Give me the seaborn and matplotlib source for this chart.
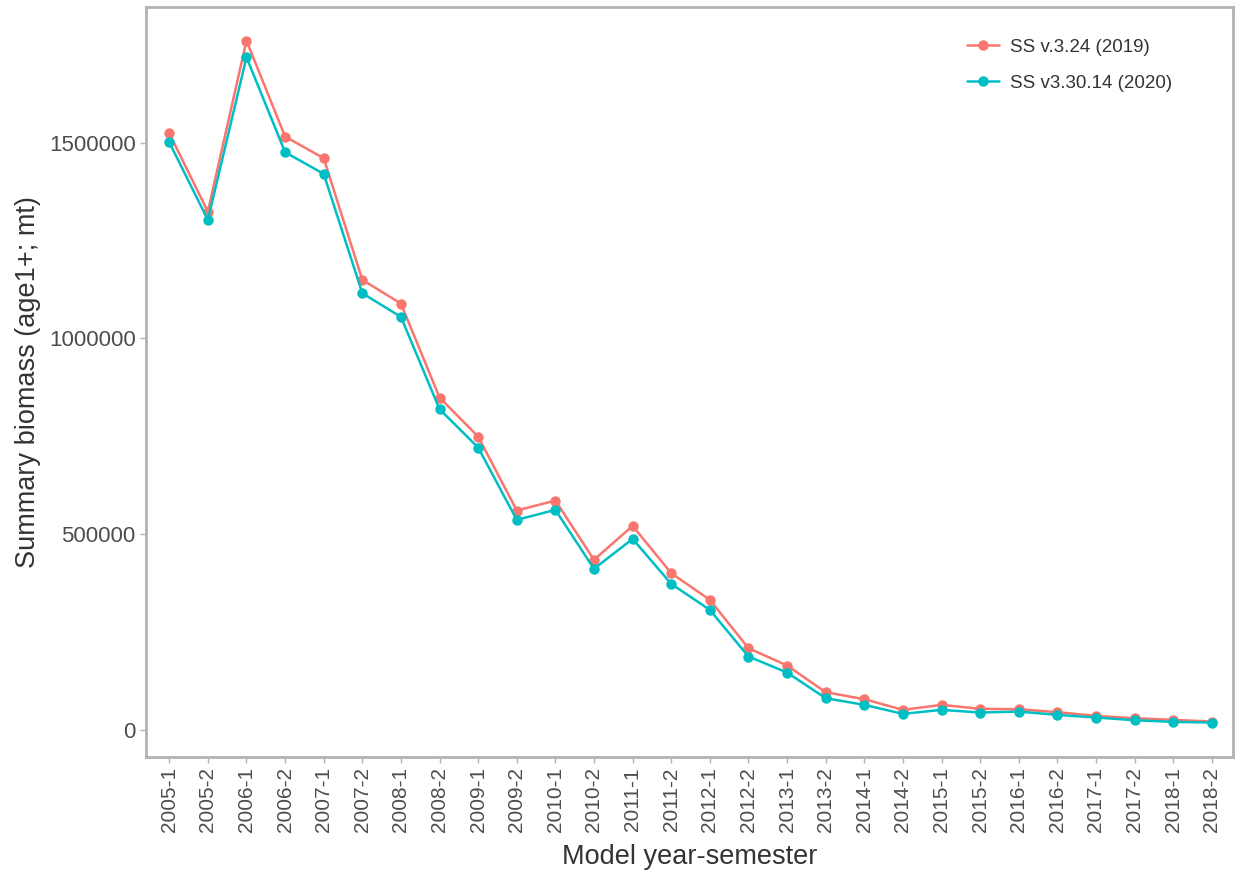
import matplotlib
matplotlib.use('Agg')
import matplotlib.pyplot as plt
import pandas as pd
import seaborn as sns

periods = ['2005-1', '2005-2', '2006-1', '2006-2', '2007-1', '2007-2', '2008-1',
           '2008-2', '2009-1', '2009-2', '2010-1', '2010-2', '2011-1', '2011-2',
           '2012-1', '2012-2', '2013-1', '2013-2', '2014-1', '2014-2', '2015-1',
           '2015-2', '2016-1', '2016-2', '2017-1', '2017-2', '2018-1', '2018-2']

ss324 = [1524600, 1324000, 1761000, 1516000, 1460600, 1149800, 1089300,
         849000, 749400, 560400, 586000, 434400, 521200, 400300,
         332200, 208700, 164400, 96300, 78400, 51100, 63900,
         53700, 52800, 45200, 35800, 29800, 25500, 21300]

ss330 = [1501600, 1303000, 1718700, 1476000, 1420600, 1115700, 1055200,
         819400, 721300, 536600, 562100, 411400, 488000, 373000,
         306600, 187400, 146500, 80900, 63900, 40900, 51100,
         44300, 46800, 38300, 31500, 24700, 20400, 18700]

labels = ['SS v.3.24 (2019)', 'SS v3.30.14 (2020)']
colors = ['#F8766D', '#00BFC4']

df = pd.concat([
    pd.DataFrame({'period': periods, 'biomass': ss324, 'model': labels[0]}),
    pd.DataFrame({'period': periods, 'biomass': ss330, 'model': labels[1]}),
])

sns.set_style('white')
plt.rcParams['font.family'] = ['Liberation Sans', 'DejaVu Sans']

fig = plt.figure(figsize=(12.38, 8.76), dpi=100)
ax = fig.add_axes([0.118, 0.136, 0.878, 0.856])

sns.lineplot(data=df, x='period', y='biomass', hue='model', palette=colors,
             marker='o', markersize=7.5, markeredgewidth=0, linewidth=1.8,
             sort=False, ax=ax)

ax.set_xlim(-0.6, len(periods) - 0.45)
ax.set_ylim(-69000, 1847000)
ax.set_yticks([0, 500000, 1000000, 1500000])
ax.set_yticklabels(['0', '500000', '1000000', '1500000'])
ax.tick_params(axis='x', rotation=90, labelsize=15)
ax.tick_params(axis='y', labelsize=16)
ax.tick_params(colors='#b3b3b3', labelcolor='#4d4d4d',
               length=4, width=1, direction='out', bottom=True, left=True)

for s in ax.spines.values():
    s.set_color('#b3b3b3')
    s.set_linewidth(2)

ax.set_xlabel('Model year-semester', fontsize=19.5, color='#333333', labelpad=8)
ax.set_ylabel('Summary biomass (age1+; mt)', fontsize=19.5, color='#333333', labelpad=6)

leg = ax.legend(title=None, frameon=False, loc='upper left',
                bbox_to_anchor=(0.74, 0.98), fontsize=13.5,
                handlelength=1.7, handletextpad=0.6, labelspacing=1.0)
for t in leg.get_texts():
    t.set_color('#333333')

fig.savefig('out.png', dpi=100)
